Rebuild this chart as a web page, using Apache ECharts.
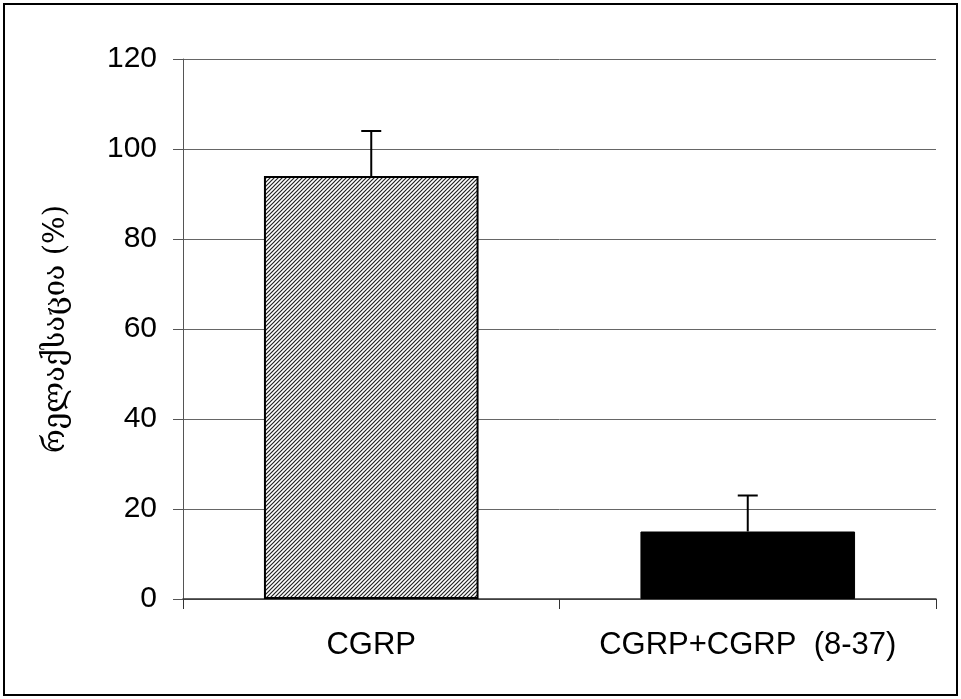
<!DOCTYPE html>
<html>
<head>
<meta charset="utf-8">
<script src="https://cdn.jsdelivr.net/npm/echarts@6/dist/echarts.min.js"></script>
<style>
  html, body { margin: 0; padding: 0; background: #fff; }
  #chart { width: 961px; height: 699px; }
</style>
</head>
<body>
<div id="chart"></div>
<script>
var groups = ['CGRP', 'CGRP+CGRP  (8-37)'];
var means = [94, 15];
var errTops = [104, 23];
var yTicks = { min: 0, max: 120, interval: 20 };

// diagonal hatch for the first bar
function hatch() {
  var c = document.createElement('canvas');
  c.width = 4; c.height = 4;
  var ctx = c.getContext('2d');
  ctx.fillStyle = '#fff';
  ctx.fillRect(0, 0, 4, 4);
  ctx.strokeStyle = '#222';
  ctx.lineWidth = 1.2;
  ctx.beginPath();
  ctx.moveTo(-1, 5); ctx.lineTo(5, -1);
  ctx.moveTo(-1, 1); ctx.lineTo(1, -1);
  ctx.moveTo(3, 5); ctx.lineTo(5, 3);
  ctx.stroke();
  return c;
}

var myChart = echarts.init(document.getElementById('chart'));
var option = {
  animation: false,
  graphic: [{
    type: 'rect',
    shape: { x: 4, y: 4, width: 953, height: 691 },
    style: { fill: 'none', stroke: '#000', lineWidth: 2 }
  }],
  grid: { left: 183, right: 25, top: 59, bottom: 100 },
  xAxis: {
    type: 'category',
    data: groups,
    axisLine: { lineStyle: { color: '#333', width: 1.5 } },
    axisTick: { show: true, interval: 0, length: 10, lineStyle: { color: '#333' } },
    axisLabel: { interval: 0, hideOverlap: false, color: '#000', fontSize: 31, fontFamily: 'Liberation Sans, Arial', margin: 31 }
  },
  yAxis: {
    type: 'value',
    min: yTicks.min, max: yTicks.max, interval: yTicks.interval,
    name: 'რელაქსაცია (%)',
    nameLocation: 'middle',
    nameGap: 112,
    nameTextStyle: { color: '#000', fontSize: 29, fontFamily: 'DejaVu Serif, DejaVu Sans' },
    axisLine: { show: true, lineStyle: { color: '#555', width: 1 } },
    axisTick: { show: true, length: 10, lineStyle: { color: '#555' } },
    axisLabel: { color: '#000', fontSize: 30, fontFamily: 'Liberation Sans, Arial', margin: 26 },
    splitLine: { lineStyle: { color: '#666', width: 1 } }
  },
  series: [{
    type: 'bar',
    barWidth: '57%',
    data: [
      { value: means[0], itemStyle: { color: { image: hatch(), repeat: 'repeat' }, borderColor: '#000', borderWidth: 2 } },
      { value: means[1], itemStyle: { color: '#000', borderColor: '#000', borderWidth: 1 } }
    ],
    z: 2
  }, {
    type: 'custom',
    data: groups.map(function (g, i) { return [i, means[i], errTops[i]]; }),
    renderItem: function (params, api) {
      var base = api.coord([api.value(0), api.value(1)]);
      var top = api.coord([api.value(0), api.value(2)]);
      var cap = 10;
      return {
        type: 'group',
        children: [
          { type: 'line', shape: { x1: base[0], y1: base[1], x2: top[0], y2: top[1] }, style: { stroke: '#000', lineWidth: 2 } },
          { type: 'line', shape: { x1: top[0] - cap, y1: top[1], x2: top[0] + cap, y2: top[1] }, style: { stroke: '#000', lineWidth: 2 } }
        ]
      };
    },
    z: 3
  }]
};
myChart.setOption(option);
</script>
</body>
</html>
